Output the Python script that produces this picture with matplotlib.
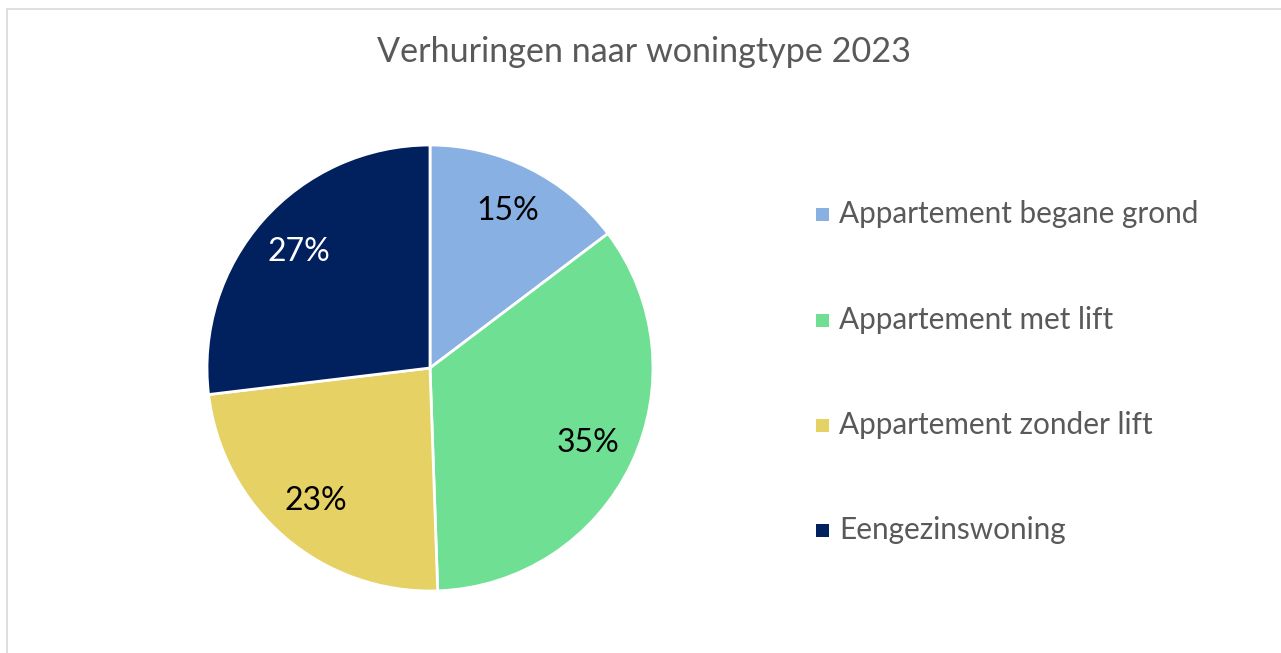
import matplotlib
matplotlib.use("Agg")
import matplotlib.pyplot as plt
from matplotlib.patches import Rectangle

title = "Verhuringen naar woningtype 2023"
categories = ["Appartement begane grond", "Appartement met lift",
              "Appartement zonder lift", "Eengezinswoning"]
shares = [14.7, 34.75, 23.65, 26.9]
pct_labels = ["15%", "35%", "23%", "27%"]
colors = ["#88B0E2", "#6FDF93", "#E6D164", "#00205E"]
label_colors = ["black", "black", "black", "white"]

W, H = 1281, 653
fig = plt.figure(figsize=(W / 100, H / 100), dpi=100)
plt.rcParams['font.family'] = ['Lato', 'DejaVu Sans']

# chart border
fig.add_artist(Rectangle((7 / W, -0.1), 1.2, (H - 9) / H + 0.1,
                         transform=fig.transFigure, fill=False,
                         edgecolor="#D9D9D9", linewidth=1.2))

cx, cy, r = 430, 368, 223
ax = fig.add_axes([(cx - r) / W, (H - cy - r) / H, 2 * r / W, 2 * r / H])
wedges, texts, autotexts = ax.pie(
    shares, colors=colors, startangle=90, counterclock=False,
    autopct="%.0f%%", pctdistance=0.785,
    wedgeprops=dict(edgecolor="white", linewidth=2.0),
    textprops=dict(fontsize=23))
for t, c, lab in zip(autotexts, label_colors, pct_labels):
    t.set_color(c)
    t.set_text(lab)
ax.set_xlim(-1, 1)
ax.set_ylim(-1, 1)
ax.set_aspect("equal")
ax.axis("off")

fig.text(644 / W, 1 - 52 / H, title, ha="center", va="center",
         fontsize=24.6, color="#595959")

# legend
leg_y = [214, 320, 425, 530]
for name, col, y in zip(categories, colors, leg_y):
    fig.add_artist(Rectangle((816 / W, 1 - (y + 6.5) / H), 13 / W, 13 / H,
                             transform=fig.transFigure, facecolor=col,
                             edgecolor="none"))
    fig.text(839 / W, 1 - y / H, name, ha="left", va="center",
             fontsize=21.4, color="#595959")

fig.savefig("out.png", dpi=100)
